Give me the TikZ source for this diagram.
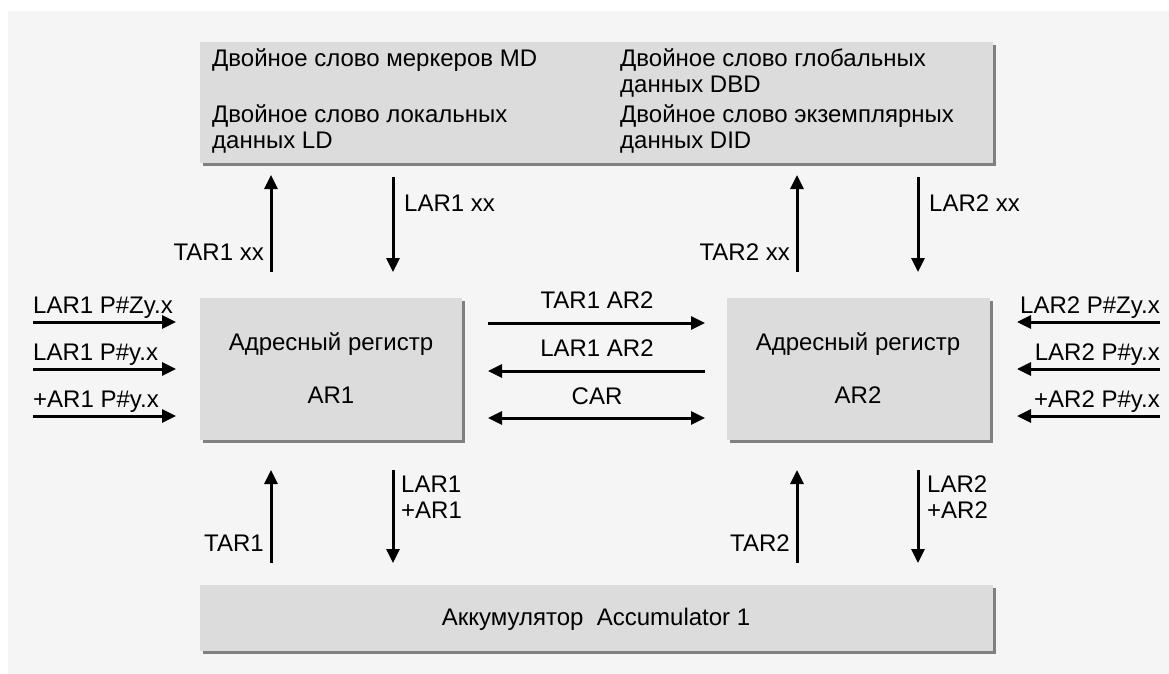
\documentclass[tikz,border=0pt]{standalone}
\usepackage{fontspec}
\setmainfont{Liberation Sans}
\usetikzlibrary{arrows.meta,shadows}
\definecolor{bgc}{HTML}{F5F5F5}
\definecolor{boxc}{HTML}{DCDCDC}
\definecolor{shc}{HTML}{808080}
\definecolor{txc}{HTML}{000000}
\tikzset{
  box/.style={draw=none, fill=boxc, inner sep=0pt, anchor=north west,
    drop shadow={shadow xshift=3pt, shadow yshift=-3pt, fill=shc, opacity=1}},
  lbl/.style={inner sep=0pt, text=txc, font=\fontsize{24}{28}\selectfont},
  arr/.style={line width=3pt, -{Triangle[length=14pt,width=13pt]}},
  darr/.style={line width=3pt, {Triangle[length=14pt,width=13pt]}-{Triangle[length=14pt,width=13pt]}}
}
\begin{document}
\begin{tikzpicture}[x=1pt,y=-1pt]
\useasboundingbox (0,0) rectangle (1169,674);
\fill[bgc] (8,11) rectangle (1169,674);
% boxes
\node[box, minimum width=793pt, minimum height=121pt] (top) at (200,42) {};
\node[box, minimum width=262pt, minimum height=142pt] (ar1) at (200,298) {};
\node[box, minimum width=263pt, minimum height=142pt] (ar2) at (727,298) {};
\node[box, minimum width=793pt, minimum height=66pt] (acc) at (200,585) {};
% top texts
\node[lbl, anchor=base west] (t1) at (212,67) {Двойное слово меркеров MD};
\node[lbl, anchor=base west] (t2) at (212,122) {Двойное слово локальных};
\node[lbl, anchor=base west] (t3) at (212,148) {данных LD};
\node[lbl, anchor=base west] (t4) at (620,67) {Двойное слово глобальных};
\node[lbl, anchor=base west] (t5) at (620,93) {данных DBD};
\node[lbl, anchor=base west] (t6) at (620,122) {Двойное слово экземплярных};
\node[lbl, anchor=base west] (t7) at (620,148) {данных DID};
% register texts
\node[lbl, anchor=base] (r1a) at (331,350) {Адресный регистр};
\node[lbl, anchor=base] (r1b) at (331,403) {AR1};
\node[lbl, anchor=base] (r2a) at (858,350) {Адресный регистр};
\node[lbl, anchor=base] (r2b) at (858,403) {AR2};
\node[lbl, anchor=base] (acct) at (596,625) {Аккумулятор\ \ Accumulator 1};
% vertical arrow coordinates
\coordinate (u1a) at (271,272); \coordinate (u1b) at (271,175);
\coordinate (d1a) at (393,177); \coordinate (d1b) at (393,272);
\coordinate (u2a) at (797,272); \coordinate (u2b) at (797,175);
\coordinate (d2a) at (918,177); \coordinate (d2b) at (918,272);
\coordinate (u3a) at (271,563); \coordinate (u3b) at (271,470);
\coordinate (d3a) at (393,470); \coordinate (d3b) at (393,563);
\coordinate (u4a) at (797,563); \coordinate (u4b) at (797,470);
\coordinate (d4a) at (918,470); \coordinate (d4b) at (918,563);
\draw[arr] (u1a) -- (u1b);
\draw[arr] (d1a) -- (d1b);
\draw[arr] (u2a) -- (u2b);
\draw[arr] (d2a) -- (d2b);
\draw[arr] (u3a) -- (u3b);
\draw[arr] (d3a) -- (d3b);
\draw[arr] (u4a) -- (u4b);
\draw[arr] (d4a) -- (d4b);
\node[lbl, anchor=base east] (lu1) at (264,260) {TAR1 xx};
\node[lbl, anchor=base west] (ld1) at (404,211) {LAR1 xx};
\node[lbl, anchor=base east] (lu2) at (790,260) {TAR2 xx};
\node[lbl, anchor=base west] (ld2) at (929,211) {LAR2 xx};
\node[lbl, anchor=base east] (lu3) at (264,551) {TAR1};
\node[lbl, anchor=base west] (ld3a) at (401,492) {LAR1};
\node[lbl, anchor=base west] (ld3b) at (401,518) {+AR1};
\node[lbl, anchor=base east] (lu4) at (790,551) {TAR2};
\node[lbl, anchor=base west] (ld4a) at (927,492) {LAR2};
\node[lbl, anchor=base west] (ld4b) at (927,518) {+AR2};
% left inputs
\coordinate (l1a) at (33,322); \coordinate (l1b) at (176,322);
\coordinate (l2a) at (33,369); \coordinate (l2b) at (176,369);
\coordinate (l3a) at (33,416); \coordinate (l3b) at (176,416);
\draw[arr] (l1a) -- (l1b);
\draw[arr] (l2a) -- (l2b);
\draw[arr] (l3a) -- (l3b);
\node[lbl, anchor=base west] (ll1) at (33,313) {LAR1 P\#Zy.x};
\node[lbl, anchor=base west] (ll2) at (33,360) {LAR1 P\#y.x};
\node[lbl, anchor=base west] (ll3) at (33,407) {+AR1 P\#y.x};
% right inputs
\coordinate (r1a) at (1160,322); \coordinate (r1b) at (1017,322);
\coordinate (r2a) at (1160,369); \coordinate (r2b) at (1017,369);
\coordinate (r3a) at (1160,416); \coordinate (r3b) at (1017,416);
\draw[arr] (r1a) -- (r1b);
\draw[arr] (r2a) -- (r2b);
\draw[arr] (r3a) -- (r3b);
\node[lbl, anchor=base east] (rl1) at (1160,313) {LAR2 P\#Zy.x};
\node[lbl, anchor=base east] (rl2) at (1160,360) {LAR2 P\#y.x};
\node[lbl, anchor=base east] (rl3) at (1160,407) {+AR2 P\#y.x};
% middle
\coordinate (m1a) at (488,323); \coordinate (m1b) at (705,323);
\coordinate (m2a) at (705,371); \coordinate (m2b) at (488,371);
\coordinate (m3a) at (488,418); \coordinate (m3b) at (705,418);
\draw[arr] (m1a) -- (m1b);
\draw[arr] (m2a) -- (m2b);
\draw[darr] (m3a) -- (m3b);
\node[lbl, anchor=base] (ml1) at (597,308) {TAR1 AR2};
\node[lbl, anchor=base] (ml2) at (597,356) {LAR1 AR2};
\node[lbl, anchor=base] (ml3) at (597,404) {CAR};
\end{tikzpicture}
\end{document}
